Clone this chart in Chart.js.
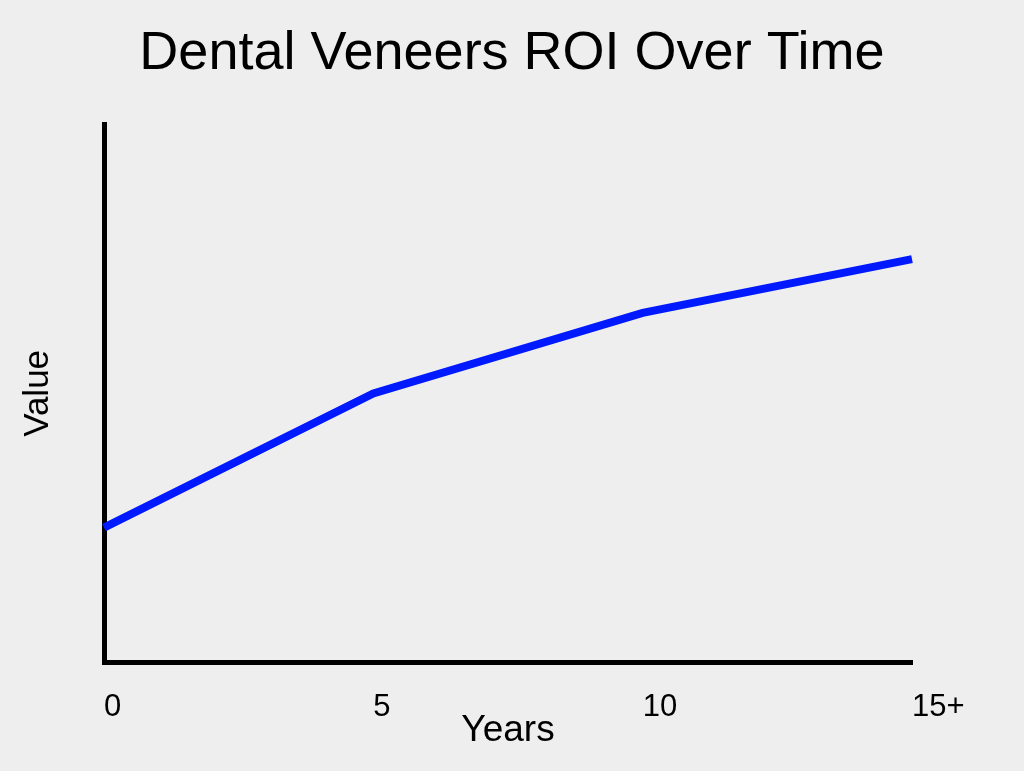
<!DOCTYPE html>
<html>
<head>
<meta charset="utf-8">
<script src="https://cdn.jsdelivr.net/npm/chart.js@4/dist/chart.umd.min.js"></script>
<style>
  body { margin: 0; background: #eeeeee; }
  #wrap { width: 1024px; height: 771px; }
</style>
</head>
<body>
<div id="wrap"><canvas id="roi-chart"></canvas></div>
<script>
let years = ["0", "5", "10", "15+"];
let roiValues = [25, 50, 65, 75];

let fontFamily = "'Liberation Sans', Arial, Helvetica, sans-serif";

let chart = document.getElementById("roi-chart");
let roiChart = new Chart(chart, {
    type: 'line',
    data: {
        labels: years,
        datasets: [
            {
                label: 'ROI',
                data: roiValues,
                borderColor: 'rgb(0, 25, 255)',
                borderWidth: 8,
                pointRadius: 0,
                fill: false,
                tension: 0
            }
        ]
    },
    options: {
        responsive: true,
        maintainAspectRatio: false,
        animation: false,
        layout: {
            padding: 0
        },
        plugins: {
            legend: { display: false },
            tooltip: { enabled: false },
            title: {
                display: true,
                text: 'Dental Veneers ROI Over Time',
                color: '#000',
                font: { family: fontFamily, size: 54, weight: 'normal' },
                padding: { top: 22, bottom: 38 }
            }
        },
        scales: {
            x: {
                offset: false,
                grid: { display: false, drawTicks: false },
                border: { display: true, color: '#000', width: 5 },
                ticks: {
                    align: 'start',
                    color: '#000',
                    padding: 27,
                    maxRotation: 0,
                    font: { family: fontFamily, size: 31 }
                },
                title: {
                    display: true,
                    text: 'Years',
                    color: '#000',
                    font: { family: fontFamily, size: 37 },
                    padding: { top: 0, bottom: 18 }
                },
                afterFit: function (scale) {
                    scale.height = 109;
                }
            },
            y: {
                min: 0,
                max: 100,
                grid: { display: false, drawTicks: false },
                border: { display: true, color: '#000', width: 5 },
                ticks: { display: false },
                title: {
                    display: true,
                    text: 'Value',
                    color: '#000',
                    font: { family: fontFamily, size: 35 },
                    padding: { top: 17, bottom: 0 }
                },
                afterFit: function (scale) {
                    scale.width = 104;
                }
            },
            // empty right axis, only keeps space on the right side
            yRight: {
                position: 'right',
                display: true,
                grid: { display: false, drawTicks: false },
                border: { display: false },
                ticks: { display: false },
                afterFit: function (scale) {
                    scale.width = 112;
                }
            }
        }
    }
});
</script>
</body>
</html>
